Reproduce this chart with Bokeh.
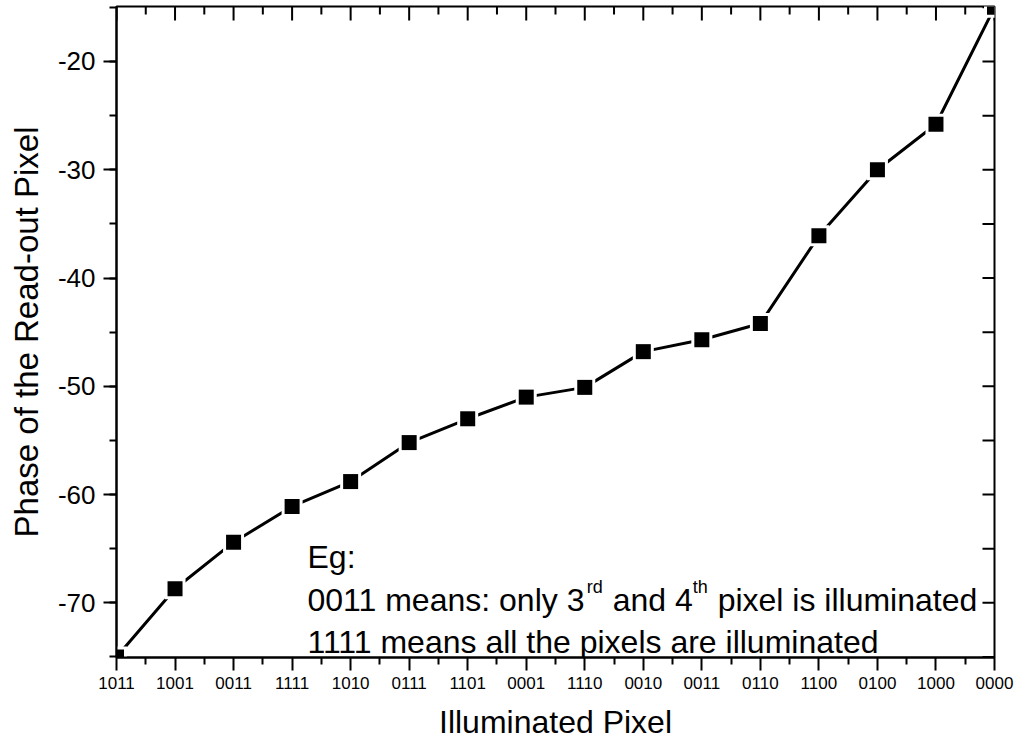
import math

from bokeh.plotting import figure
from bokeh.models import (Range1d, FixedTicker, SingleIntervalTicker,
                          Label, ColumnDataSource)
from bokeh.embed import file_html
from bokeh.resources import INLINE

# Illuminated pixel patterns (x categories) and measured read-out phase
pixel_patterns = ["1011", "1001", "0011", "1111", "1010", "0111", "1101", "0001",
                  "1110", "0010", "0011", "0110", "1100", "0100", "1000", "0000"]
phase_values = [-75.0, -68.7, -64.4, -61.1, -58.8, -55.2, -53.0, -51.0,
                -50.1, -46.8, -45.7, -44.2, -36.1, -30.0, -25.8, -15.0]
y_major_ticks = [-70, -60, -50, -40, -30, -20]
right_ticks = [-75, -70, -65, -60, -55, -50, -45, -40, -35, -30, -25, -20, -15]

positions = list(range(len(pixel_patterns)))
half_steps = [i + 0.5 for i in positions[:-1]]

FONT = "Liberation Sans"
X_LO, X_HI = 0, 15
Y_LO, Y_HI = -75.05, -14.92

p = figure(width=1018, height=743,
           x_range=Range1d(X_LO, X_HI), y_range=Range1d(Y_LO, Y_HI),
           output_backend="svg", toolbar_location=None,
           min_border_left=116, min_border_right=24,
           min_border_top=6, min_border_bottom=86,
           x_axis_label="Illuminated Pixel",
           y_axis_label="Phase of the Read-out Pixel")
p.grid.visible = False
p.outline_line_color = "black"
p.outline_line_width = 2
p.background_fill_color = "white"
p.border_fill_color = "white"

# bottom axis: pattern labels at every integer, minor ticks halfway
xa = p.xaxis[0]
xa.ticker = FixedTicker(ticks=positions, minor_ticks=half_steps)
xa.major_label_overrides = {i: lab for i, lab in enumerate(pixel_patterns)}
xa.major_label_text_font = FONT
xa.major_label_text_font_size = "17px"
xa.major_label_text_color = "black"
xa.major_label_standoff = 6
xa.axis_label_text_font = FONT
xa.axis_label_text_font_size = "32px"
xa.axis_label_text_font_style = "normal"
xa.axis_label_text_color = "black"
xa.axis_label_standoff = 12

# left axis with plain hyphen-minus labels
ya = p.yaxis[0]
ya.ticker = SingleIntervalTicker(interval=10, num_minor_ticks=2)
ya.major_label_overrides = {v: f"-{abs(v)}" for v in y_major_ticks}
ya.major_label_text_font = FONT
ya.major_label_text_font_size = "26px"
ya.major_label_text_color = "black"
ya.major_label_standoff = 8
ya.axis_label_text_font = FONT
ya.axis_label_text_font_size = "33px"
ya.axis_label_text_font_style = "normal"
ya.axis_label_text_color = "black"
ya.axis_label_standoff = 10

for ax in (xa, ya):
    ax.axis_line_width = 2
    ax.axis_line_color = "black"
    ax.major_tick_line_width = 2
    ax.minor_tick_line_width = 2
    ax.major_tick_line_color = "black"
    ax.minor_tick_line_color = "black"
    ax.major_tick_in = 0
    ax.major_tick_out = 13
    ax.minor_tick_in = 0
    ax.minor_tick_out = 7

# mirrored inward ticks on the top and right frame edges: dashes centred on
# the edge, half of each is clipped away by the plot frame
p.scatter(x=positions, y=[Y_HI] * len(positions), marker="dash", size=28,
          angle=math.pi / 2, line_color="black", line_width=2)
p.scatter(x=half_steps, y=[Y_HI] * len(half_steps), marker="dash", size=16,
          angle=math.pi / 2, line_color="black", line_width=2)
p.scatter(x=[X_HI] * len(right_ticks), y=right_ticks, marker="dash", size=24,
          line_color="black", line_width=2)

src = ColumnDataSource(data=dict(x=positions, y=phase_values))
p.line("x", "y", source=src, line_color="black", line_width=3)
# white halo leaves a small gap between line and marker
p.scatter("x", "y", source=src, marker="square", size=21,
          fill_color="white", line_color=None)
p.scatter("x", "y", source=src, marker="square", size=15,
          fill_color="black", line_color=None)

# annotation text, built from pieces so the ordinals get superscripts
ADV = {"0": .556, "1": .556, "2": .556, "3": .556, "4": .556, " ": .278, ":": .278,
       "a": .556, "d": .556, "e": .556, "h": .556, "i": .222, "l": .222, "m": .833,
       "n": .556, "o": .556, "p": .556, "r": .333, "s": .5, "t": .278, "u": .556,
       "x": .5, "y": .5, "E": .667, "g": .556}


def text_width(s, size):
    return sum(ADV.get(c, .556) for c in s) * size


PX_PER_X = 878 / (X_HI - X_LO)
PX_PER_Y = 651 / (Y_HI - Y_LO)
X0_PX = 116
TOP_PX = 6


def to_data(px, py):
    return X_LO + (px - X0_PX) / PX_PER_X, Y_HI - (py - TOP_PX) / PX_PER_Y


BIG = 32
SMALL = 18


def put(txt, px, py, size):
    x, y = to_data(px, py)
    p.add_layout(Label(x=x, y=y, text=txt, text_font=FONT,
                       text_font_size=f"{size}px", text_color="black",
                       text_align="left", text_baseline="alphabetic"))


left_px = 307
put("Eg:", left_px, 556, BIG)

pieces = [("0011 means: only 3", BIG, 0), ("rd", SMALL, 13),
          (" and 4", BIG, 0), ("th", SMALL, 13),
          (" pixel is illuminated", BIG, 0)]
cur = left_px
for txt, size, lift in pieces:
    lead = len(txt) - len(txt.lstrip(" "))
    cur += text_width(" " * lead, size)
    body = txt.lstrip(" ")
    put(body, cur, 599 - lift, size)
    cur += text_width(body, size) + (1 if size == SMALL else 0)

put("1111 means all the pixels are illuminated", left_px, 641, BIG)

open("out.html", "w").write(file_html(p, INLINE))
